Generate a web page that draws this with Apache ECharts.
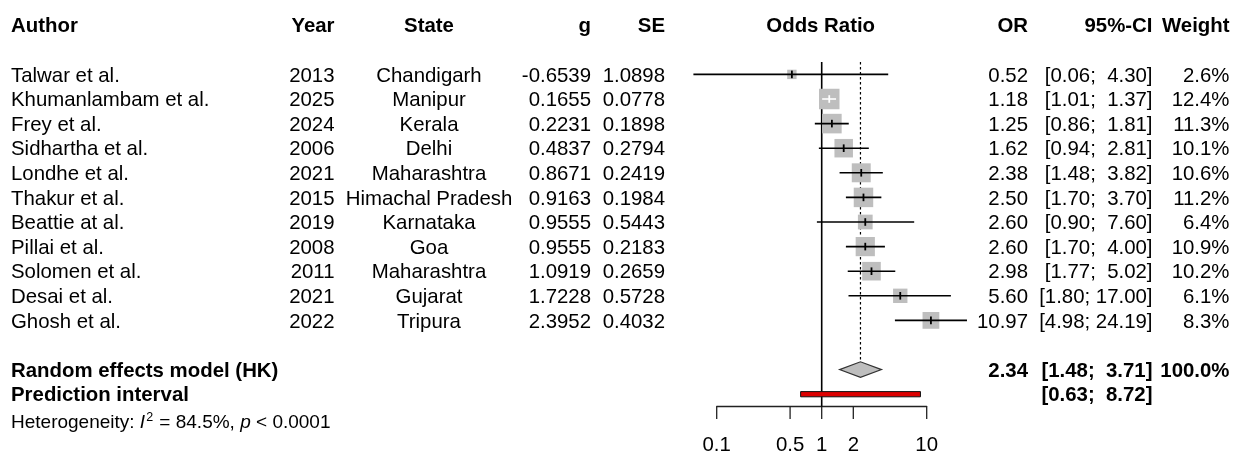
<!DOCTYPE html>
<html>
<head>
<meta charset="utf-8">
<script src="https://cdn.jsdelivr.net/npm/echarts@6.0.0/dist/echarts.min.js"></script>
<style>
html,body{margin:0;padding:0;background:#fff;}
#chart{width:1233px;height:452px;}
</style>
</head>
<body>
<div id="chart"></div>
<script>
// ---------------- data ----------------
const authors = ['Talwar et al.', 'Khumanlambam et al.', 'Frey et al.', 'Sidhartha et al.', 'Londhe et al.', 'Thakur et al.', 'Beattie at al.', 'Pillai et al.', 'Solomen et al.', 'Desai et al.', 'Ghosh et al.'];
const years = [2013, 2025, 2024, 2006, 2021, 2015, 2019, 2008, 2011, 2021, 2022];
const states = ['Chandigarh', 'Manipur', 'Kerala', 'Delhi', 'Maharashtra', 'Himachal Pradesh', 'Karnataka', 'Goa', 'Maharashtra', 'Gujarat', 'Tripura'];
const gVals = [-0.6539, 0.1655, 0.2231, 0.4837, 0.8671, 0.9163, 0.9555, 0.9555, 1.0919, 1.7228, 2.3952];
const seVals = [1.0898, 0.0778, 0.1898, 0.2794, 0.2419, 0.1984, 0.5443, 0.2183, 0.2659, 0.5728, 0.4032];
const orVals = [0.52, 1.18, 1.25, 1.62, 2.38, 2.50, 2.60, 2.60, 2.98, 5.60, 10.97];
const ciLower = [0.06, 1.01, 0.86, 0.94, 1.48, 1.70, 0.90, 1.70, 1.77, 1.80, 4.98];
const ciUpper = [4.30, 1.37, 1.81, 2.81, 3.82, 3.70, 7.60, 4.00, 5.02, 17.00, 24.19];
const weights = [2.6, 12.4, 11.3, 10.1, 10.6, 11.2, 6.4, 10.9, 10.2, 6.1, 8.3];

const pooledOR = [2.34];
const pooledCI = [1.48, 3.71];
const pooledWeight = [100.0];
const predictionInterval = [0.63, 8.72];
const summaryLabels = ['Random effects model (HK)', 'Prediction interval'];
const heterogeneity = ['84.5%', '< 0.0001'];

const tickValues = [0.1, 0.5, 1, 2, 10];
const tickLabels = ['0.1', '0.5', '1', '2', '10'];
const headerLabels = ['Author', 'Year', 'State', 'g', 'SE', 'Odds Ratio', 'OR', '95%-CI', 'Weight'];

// ---------------- layout ----------------
const FAMILY = '"Liberation Sans", Arial, Helvetica, sans-serif';
const FS = 20.4;
function font(bold, size) { return (bold ? 'bold ' : '') + (size || FS) + 'px ' + FAMILY; }
const ROW0 = 25.2, ROWH = 24.6;
const Y_MIN = 1.5, Y_MAX = 15.5;
const TEXT_DY = 1.5;
const SQ_MAX = 20.5;
const maxW = Math.max.apply(null, weights);
const COLS = ['author', 'year', 'state', 'g', 'se', 'plot', 'or', 'ci', 'weight'];
const COL = {
  author: { x: 11, align: 'left' },
  year: { x: 334.5, align: 'right' },
  state: { x: 429, align: 'center' },
  g: { x: 591, align: 'right' },
  se: { x: 665, align: 'right' },
  plot: { x: null, align: 'center' },
  or: { x: 1028, align: 'right' },
  ci: { x: 1152.5, align: 'right' },
  weight: { x: 1229.5, align: 'right' }
};
function fmtCI(lo, hi) {
  return '[' + lo.toFixed(2).padStart(4, ' ') + '; ' + hi.toFixed(2).padStart(5, ' ') + ']';
}

// text rows
const textRows = [];
const hdr = {};
COLS.forEach((c, i) => hdr[c] = headerLabels[i]);
textRows.push({ row: 0, bold: true, cells: hdr });
authors.forEach((a, i) => {
  textRows.push({ row: i + 2, bold: false, cells: {
    author: a, year: String(years[i]), state: states[i],
    g: gVals[i].toFixed(4), se: seVals[i].toFixed(4),
    or: orVals[i].toFixed(2), ci: fmtCI(ciLower[i], ciUpper[i]),
    weight: weights[i].toFixed(1) + '%'
  }});
});
const summaryRow = authors.length + 3;
textRows.push({ row: summaryRow, bold: true, cells: {
  author: summaryLabels[0], or: pooledOR[0].toFixed(2), ci: fmtCI(pooledCI[0], pooledCI[1]),
  weight: pooledWeight[0].toFixed(1) + '%'
}});
textRows.push({ row: summaryRow + 1, bold: true, cells: {
  author: summaryLabels[1], ci: fmtCI(predictionInterval[0], predictionInterval[1])
}});
const hetRow = summaryRow + 2;

const chart = echarts.init(document.getElementById('chart'), null, { renderer: 'canvas' });

const option = {
  animation: false,
  backgroundColor: '#fff',
  grid: {
    left: 716.7, width: 210,
    top: ROW0 + Y_MIN * ROWH, height: (Y_MAX - Y_MIN) * ROWH
  },
  xAxis: {
    type: 'log', logBase: 10, min: 0.1, max: 10,
    axisLine: { show: true, onZero: false, lineStyle: { color: '#222', width: 1.3 } },
    axisTick: { show: false }, axisLabel: { show: false }, splitLine: { show: false }
  },
  yAxis: {
    type: 'value', inverse: true, min: Y_MIN, max: Y_MAX, show: false
  },
  series: [
    // reference line, axis ticks and tick labels
    {
      type: 'custom', clip: false, silent: true,
      data: tickValues.map((v, i) => [v, Y_MAX, i]),
      encode: { x: 0, y: 1 },
      renderItem: function (params, api) {
        const i = params.dataIndex;
        const p = api.coord([api.value(0), api.value(1)]);
        const children = [
          { type: 'line', shape: { x1: p[0], y1: p[1], x2: p[0], y2: p[1] + 12.5 }, style: { stroke: '#222', lineWidth: 1.3 } },
          { type: 'text', style: { text: tickLabels[i], x: p[0], y: p[1] + 39, align: 'center', verticalAlign: 'middle', font: font(false), fill: '#000' } }
        ];
        if (api.value(0) === 1) {
          const top = api.coord([1, Y_MIN]);
          children.push({ type: 'line', shape: { x1: p[0], y1: top[1], x2: p[0], y2: p[1] }, style: { stroke: '#000', lineWidth: 1.6 } });
        }
        return { type: 'group', children: children };
      }
    },
    // pooled estimate: dashed line + diamond
    {
      type: 'custom', clip: false, silent: true,
      data: [[pooledOR[0], pooledCI[0], pooledCI[1], summaryRow]],
      encode: { x: [0, 1, 2], y: 3 },
      renderItem: function (params, api) {
        const row = api.value(3);
        const c = api.coord([api.value(0), row]);
        const lo = api.coord([api.value(1), row]);
        const hi = api.coord([api.value(2), row]);
        const top = api.coord([api.value(0), Y_MIN]);
        const h = 7.8;
        return { type: 'group', children: [
          { type: 'line', shape: { x1: c[0], y1: top[1], x2: c[0], y2: c[1] - h }, style: { stroke: '#000', lineWidth: 1.2, lineDash: [2.5, 2.5] } },
          { type: 'polygon', shape: { points: [[lo[0], c[1]], [c[0], c[1] - h], [hi[0], c[1]], [c[0], c[1] + h]] }, style: { fill: '#bebebe', stroke: '#333', lineWidth: 1.2 } }
        ]};
      }
    },
    // prediction interval bar
    {
      type: 'custom', clip: false, silent: true,
      data: [[predictionInterval[0], predictionInterval[1], summaryRow + 1]],
      encode: { x: [0, 1], y: 2 },
      renderItem: function (params, api) {
        const row = api.value(2);
        const lo = api.coord([api.value(0), row]);
        const hi = api.coord([api.value(1), row]);
        return { type: 'rect', shape: { x: lo[0], y: lo[1] - 2.6, width: hi[0] - lo[0], height: 5.2 }, style: { fill: '#dd0000', stroke: '#111', lineWidth: 1 } };
      }
    },
    // studies: squares, CI lines, point ticks
    {
      type: 'custom', clip: false, silent: true,
      data: orVals.map((v, i) => [v, ciLower[i], ciUpper[i], weights[i], i + 2]),
      encode: { x: [0, 1, 2], y: 4 },
      renderItem: function (params, api) {
        const row = api.value(4);
        const c = api.coord([api.value(0), row]);
        const lo = api.coord([api.value(1), row]);
        const hi = api.coord([api.value(2), row]);
        const side = SQ_MAX * Math.sqrt(api.value(3) / maxW);
        const inside = lo[0] >= c[0] - side / 2 && hi[0] <= c[0] + side / 2;
        const col = inside ? '#fff' : '#000';
        return { type: 'group', children: [
          { type: 'rect', shape: { x: c[0] - side / 2, y: c[1] - side / 2, width: side, height: side }, style: { fill: '#bebebe' } },
          { type: 'line', shape: { x1: lo[0], y1: c[1], x2: hi[0], y2: c[1] }, style: { stroke: col, lineWidth: 1.6 } },
          { type: 'line', shape: { x1: c[0], y1: c[1] - 3.8, x2: c[0], y2: c[1] + 3.8 }, style: { stroke: col, lineWidth: 1.8 } }
        ]};
      }
    },
    // text table
    {
      type: 'custom', clip: false, silent: true,
      data: textRows.map(r => [1, r.row]),
      encode: { x: 0, y: 1 },
      renderItem: function (params, api) {
        const tr = textRows[params.dataIndex];
        const p = api.coord([1, tr.row]);
        const y = p[1] + TEXT_DY;
        const children = Object.keys(tr.cells).map(k => ({
          type: 'text',
          style: {
            text: tr.cells[k], x: k === 'plot' ? p[0] - 1 : COL[k].x, y: y,
            align: COL[k].align, verticalAlign: 'middle', font: font(tr.bold), fill: '#000'
          }
        }));
        return { type: 'group', children: children };
      }
    },
    // heterogeneity line
    {
      type: 'custom', clip: false, silent: true,
      data: [[1, hetRow]],
      encode: { x: 0, y: 1 },
      renderItem: function (params, api) {
        const p = api.coord([1, api.value(1)]);
        return {
          type: 'text',
          style: {
            x: 11, y: p[1] + 4, align: 'left', verticalAlign: 'middle',
            text: '{n|Heterogeneity: }{it|I}{sup|2}{n| = ' + heterogeneity[0] + ', }{it|p}{n| ' + heterogeneity[1] + '}',
            font: font(false, 19), fill: '#000',
            rich: {
              n: { fontFamily: FAMILY, fontSize: 19, lineHeight: 22, fill: '#000' },
              it: { fontFamily: FAMILY, fontSize: 19, fontStyle: 'italic', lineHeight: 22, fill: '#000' },
              sup: { fontFamily: FAMILY, fontSize: 12.5, lineHeight: 12, padding: [0, 1, 10, 1], fill: '#000' }
            }
          }
        };
      }
    }
  ]
};
chart.setOption(option);
</script>
</body>
</html>
